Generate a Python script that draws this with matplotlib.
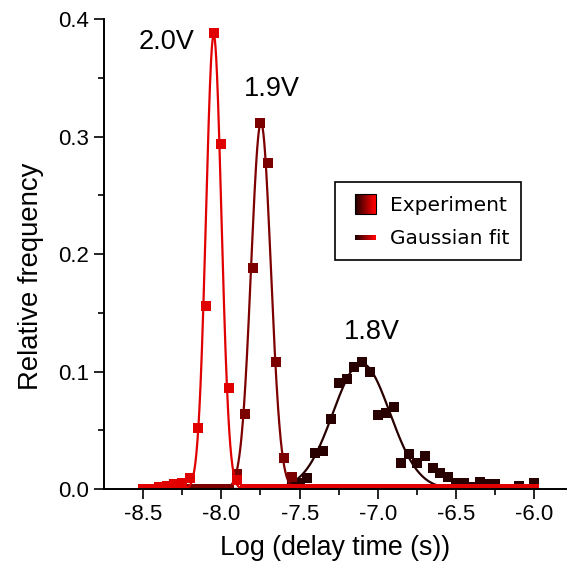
import numpy as np
import matplotlib
matplotlib.use("Agg")
import matplotlib.pyplot as plt
from matplotlib.patches import Rectangle
from matplotlib.lines import Line2D
from matplotlib.legend_handler import HandlerBase
from matplotlib.colors import LinearSegmentedColormap

plt.rcParams['font.family'] = ['Liberation Sans', 'DejaVu Sans']
plt.rcParams['axes.unicode_minus'] = False

# Histogram bin centres, log10(delay time / s)
log_delay = np.round(np.arange(-8.5, -5.975, 0.05), 2)

nan = np.nan
# Relative frequency per bin
freq_2v0 = [0, 0, 0.002, 0.003, 0.004, 0.005, 0.009, 0.052, 0.156, 0.388,
            0.294, 0.086, 0.008] + [0] * 38
freq_1v9 = [nan] * 6 + [0, 0, 0, 0, 0, 0, 0.013, 0.064, 0.188, 0.312,
                        0.278, 0.108, 0.026, 0.010] + [0] * 31
freq_1v8 = [nan] * 19 + [0.003, 0.005, 0.009, 0.031, 0.032, 0.060, 0.090,
                         0.094, 0.104, 0.108, 0.100, 0.063, 0.065, 0.070,
                         0.022, 0.030, 0.022, 0.028, 0.018, 0.014, 0.010,
                         0.005, 0.005, 0.002, 0.006, 0.004, 0.004, 0, 0,
                         0.003, 0, 0.005]

# Gaussian fit parameters (centre, sigma, amplitude)
fit_center = [-8.049, -7.747, -7.105]
fit_sigma = [0.049, 0.063, 0.182]
fit_amp = [0.387, 0.312, 0.107]

voltages = ["2.0V", "1.9V", "1.8V"]
label_x = [-8.35, -7.68, -7.04]
label_y = [0.381, 0.341, 0.134]
colors = ["#e10000", "#7c0000", "#280000"]
series = [freq_2v0, freq_1v9, freq_1v8]


class GradientHandler(HandlerBase):
    def __init__(self, kind, cmap):
        super().__init__()
        self.kind = kind
        self.cmap = cmap

    def create_artists(self, legend, orig_handle, xdescent, ydescent,
                       width, height, fontsize, trans):
        n = 40
        side = height  # swatch is square, right-aligned in the handle box
        x0 = -xdescent + width - side
        if self.kind == "square":
            y0, h = -ydescent, height
        else:
            h = 3.8
            y0 = -ydescent + height / 2 - h / 2
        artists = []
        for k in range(n):
            r = Rectangle((x0 + k * side / n, y0), side / n * 1.05, h,
                          facecolor=self.cmap(k / (n - 1)), lw=0,
                          transform=trans)
            artists.append(r)
        if self.kind == "square":
            artists.append(Rectangle((x0, y0), side, h, fill=False,
                                     edgecolor="black", lw=0.8,
                                     transform=trans))
        return artists


fig = plt.figure(figsize=(5.67, 5.66), dpi=100)
ax = fig.add_axes([0.1834, 0.1360, 0.8143, 0.8299])

x_fit = np.linspace(-8.5, -6.0, 1500)
# draw the slowest series first so the red one sits on top
for i in [2, 1, 0]:
    ax.plot(log_delay, series[i], linestyle="none", marker="s",
            markersize=7.8, markeredgewidth=0, color=colors[i])
    y_fit = fit_amp[i] * np.exp(-(x_fit - fit_center[i]) ** 2
                                / (2 * fit_sigma[i] ** 2))
    ax.plot(x_fit, y_fit, color=colors[i], lw=1.6)
    ax.text(label_x[i], label_y[i], voltages[i], fontsize=19.5,
            ha="center", va="center")

ax.set_xlim(-8.75, -5.8)
ax.set_ylim(0, 0.4)
ax.set_xticks([-8.5, -8.0, -7.5, -7.0, -6.5, -6.0])
ax.set_xticks(np.arange(-8.25, -5.9, 0.5), minor=True)
ax.set_yticks([0.0, 0.1, 0.2, 0.3, 0.4])
ax.set_yticks([0.05, 0.15, 0.25, 0.35], minor=True)
ax.tick_params(which="major", length=7, width=1.2, labelsize=16, pad=4)
ax.tick_params(which="minor", length=4.3, width=1.2)
for side in ["top", "right"]:
    ax.spines[side].set_visible(False)
for side in ["left", "bottom"]:
    ax.spines[side].set_linewidth(1.4)

ax.set_xlabel("Log (delay time (s))", fontsize=19.3)
ax.set_ylabel("Relative frequency", fontsize=19.8)
ax.xaxis.set_label_coords(0.5, -0.098)
ax.yaxis.set_label_coords(-0.130, 0.452)

cmap = LinearSegmentedColormap.from_list("grad", ["#200000", "#ff0000"])
h_exp = Rectangle((0, 0), 1, 1)
h_fit = Line2D([], [])
leg = ax.legend([h_exp, h_fit], ["Experiment", "Gaussian fit"],
                handler_map={h_exp: GradientHandler("square", cmap),
                             h_fit: GradientHandler("line", cmap)},
                loc="upper left", bbox_to_anchor=(0.5, 0.654),
                borderaxespad=0, fancybox=False, framealpha=1,
                edgecolor="black", prop={"family": "DejaVu Sans", "size": 14.5},
                handlelength=1.42, handleheight=1.19, handletextpad=0.72,
                labelspacing=0.6, borderpad=0.6)
leg.get_frame().set_linewidth(1.2)

fig.savefig("out.png", dpi=100)
